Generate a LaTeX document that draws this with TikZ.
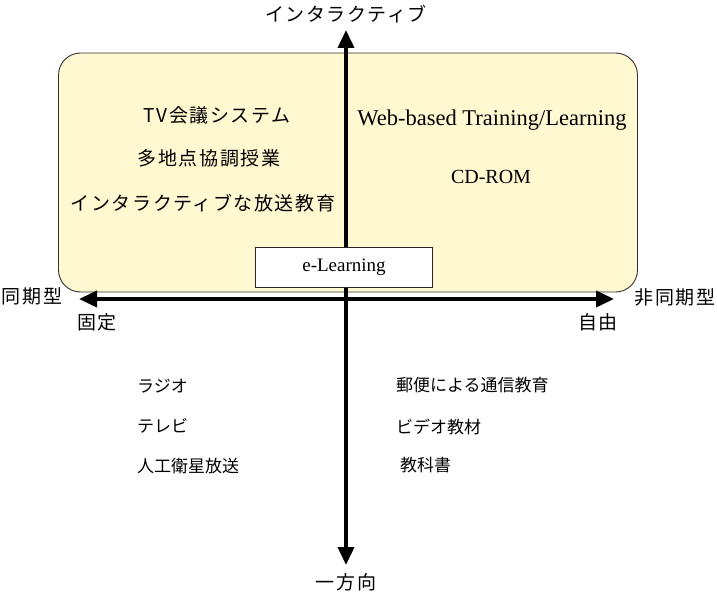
\documentclass[tikz,border=0pt]{standalone}
\usepackage{fontspec}
\setmainfont{Liberation Serif}
\newfontfamily\jpfont{Noto Sans CJK JP}
\newfontfamily\jpwide[LetterSpace=8]{Noto Sans CJK JP}
\usetikzlibrary{arrows.meta}
\definecolor{boxfill}{RGB}{255,248,208}
\tikzset{
  axis/.style={line width=3.8pt,-{Triangle[length=18pt,width=16pt]}},
  jp/.style={font=\jpfont\fontsize{17}{20}\selectfont,inner sep=0pt},
  jpw/.style={font=\jpwide\fontsize{19}{22}\selectfont,inner sep=0pt},
  lat/.style={font=\fontsize{20}{24}\selectfont,inner sep=0pt},
}
\begin{document}
\begin{tikzpicture}[x=1pt,y=-1pt]
\useasboundingbox (0,0) rectangle (717,594);
\fill[white] (0,0) rectangle (717,594);
\node[draw=black!80,line width=0.9pt,fill=boxfill,rounded corners=22pt,minimum width=579pt,minimum height=239pt,inner sep=0pt] (area) at (348,172.5) {};
\coordinate (top) at (346,30);
\coordinate (bot) at (346,565);
\coordinate (lft) at (79,299);
\coordinate (rgt) at (614,299);
\coordinate (org) at (346,299);
\draw[axis] (org) -- (top);
\draw[axis] (org) -- (bot);
\draw[axis] (org) -- (lft);
\draw[axis] (org) -- (rgt);
\node[draw=black!85,line width=0.9pt,fill=white,minimum width=177pt,minimum height=40pt,lat,font=\fontsize{19}{22}\selectfont] (el) at (344,267.5) {e-Learning};
\node[jpw] (ti) at (346,14) {インタラクティブ};
\node[jpw] (tb) at (346,582) {一方向};
\node[jpw] (tl) at (32,296) {同期型};
\node[jpw] (tr) at (675,297) {非同期型};
\node[jpw] (tfix) at (97,322) {固定};
\node[jpw] (tfree) at (598,322) {自由};
\node[jpw] (q1) at (217,115) {TV会議システム};
\node[jpw] (q2) at (209,158) {多地点協調授業};
\node[jpw] (q3) at (203,203) {インタラクティブな放送教育};
\node[lat,font=\fontsize{22.5}{26}\selectfont] (w1) at (492,120) {Web-based Training/Learning};
\node[lat] (w2) at (491,177) {CD-ROM};
\node[jp,anchor=west] (r1) at (137,386) {ラジオ};
\node[jp,anchor=west] (r2) at (137,426) {テレビ};
\node[jp,anchor=west] (r3) at (137,466) {人工衛星放送};
\node[jp,anchor=west] (s1) at (396,385) {郵便による通信教育};
\node[jp,anchor=west] (s2) at (396,427) {ビデオ教材};
\node[jp,anchor=west] (s3) at (400,465) {教科書};
\end{tikzpicture}
\end{document}
